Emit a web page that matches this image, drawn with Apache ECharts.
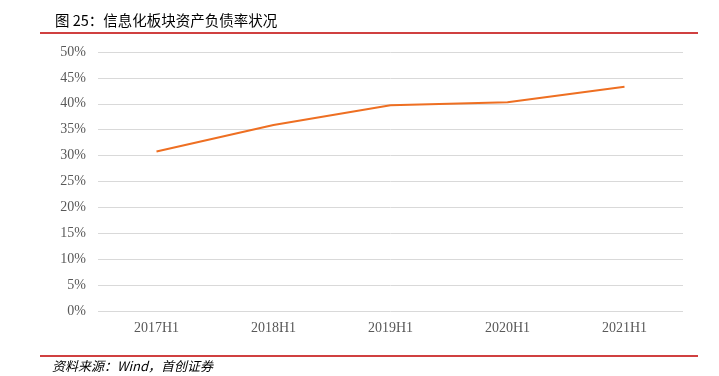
<!DOCTYPE html>
<html>
<head>
<meta charset="utf-8">
<script src="https://cdn.jsdelivr.net/npm/echarts@6/dist/echarts.min.js"></script>
<style>
  html, body { margin: 0; padding: 0; background: #fff; }
  #chart { width: 719px; height: 376px; }
</style>
</head>
<body>
<div id="chart"></div>
<script>
// 信息化板块资产负债率
var periods = ["2017H1", "2018H1", "2019H1", "2020H1", "2021H1"];
var debtRatio = [30.8, 35.9, 39.7, 40.3, 43.3];
var titleText = "图 25：信息化板块资产负债率状况";
var sourceText = "资料来源：Wind，首创证券";

var myChart = echarts.init(document.getElementById("chart"));
var option = {
  animation: false,
  title: {
    text: titleText,
    left: 50,
    top: 8,
    textStyle: {
      fontFamily: "Noto Sans CJK SC",
      fontSize: 14.5,
      fontWeight: "normal",
      color: "#000"
    }
  },
  grid: {
    left: 98,
    right: 36,
    top: 52,
    bottom: 65
  },
  xAxis: {
    type: "category",
    data: periods,
    axisLine: { show: false },
    axisTick: { show: false },
    axisLabel: {
      margin: 10,
      fontFamily: "Liberation Serif",
      fontSize: 14,
      color: "#595959"
    }
  },
  yAxis: {
    type: "value",
    min: 0,
    max: 50,
    interval: 5,
    axisLine: { show: false },
    axisTick: { show: false },
    axisLabel: {
      formatter: "{value}%",
      margin: 12,
      fontFamily: "Liberation Serif",
      fontSize: 14,
      color: "#595959"
    },
    splitLine: { lineStyle: { color: "#d9d9d9", width: 1 } }
  },
  series: [
    {
      name: "资产负债率",
      type: "line",
      data: debtRatio,
      symbol: "none",
      lineStyle: { color: "#ee6f22", width: 2 }
    }
  ],
  graphic: [
    {
      type: "line",
      shape: { x1: 40, y1: 33, x2: 698, y2: 33 },
      style: { stroke: "#c00000", lineWidth: 1.5 }
    },
    {
      type: "line",
      shape: { x1: 40, y1: 356, x2: 698, y2: 356 },
      style: { stroke: "#c00000", lineWidth: 1.5 }
    },
    {
      type: "text",
      left: 52,
      top: 360,
      style: {
        text: sourceText,
        fontFamily: "Noto Sans CJK SC",
        fontStyle: "italic",
        fontSize: 13,
        fill: "#000"
      }
    }
  ]
};
myChart.setOption(option);
</script>
</body>
</html>
